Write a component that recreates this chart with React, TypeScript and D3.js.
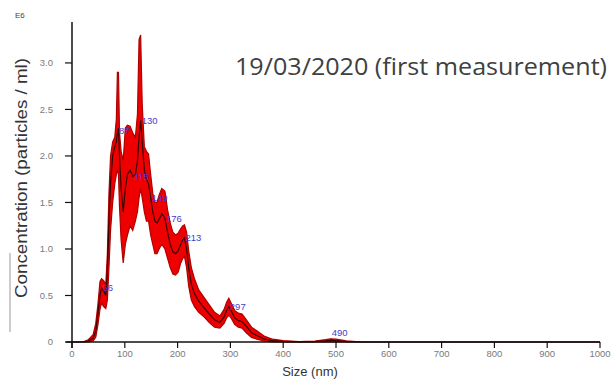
import * as d3 from "d3";

// particle size (nm) and concentration (E6 particles / ml)
const sizeNm = [
  0, 20, 30, 40, 45, 49, 53, 56, 60, 64, 67, 70, 73, 77, 81, 84, 86, 88, 90, 93, 97, 101, 105, 110, 115,
  120, 124, 127, 130, 133, 137, 141, 145, 149, 153, 157, 161, 165, 170, 176, 181, 186, 191, 196, 201,
  206, 210, 213, 217, 221, 226, 232, 240, 250, 260, 270, 280, 288, 293, 297, 302, 308, 315, 322, 330,
  340, 350, 365, 380, 400, 430, 460, 480, 490, 500, 520, 550, 1000,
];
const meanConc = [
  0, 0, 0.01, 0.04, 0.12, 0.3, 0.5, 0.58, 0.55, 0.5, 0.75, 1.3, 1.7, 2.0, 2.1, 2.15, 2.25, 2.3, 2.0, 1.65,
  1.4, 1.65, 1.8, 1.85, 1.78, 1.8, 1.95, 2.2, 2.38, 2.15, 1.85, 1.75, 1.7, 1.55, 1.4, 1.3, 1.28, 1.32,
  1.38, 1.33, 1.18, 1.05, 0.97, 0.95, 0.98, 1.05, 1.1, 1.12, 1.0, 0.8, 0.62, 0.52, 0.44, 0.37, 0.3, 0.24,
  0.21, 0.27, 0.34, 0.38, 0.33, 0.26, 0.23, 0.22, 0.17, 0.1, 0.07, 0.03, 0.015, 0.005, 0, 0.005, 0.012,
  0.02, 0.015, 0.005, 0, 0,
];
const upperConc = [
  0, 0, 0.02, 0.08, 0.2, 0.4, 0.65, 0.68, 0.66, 0.62, 0.95, 1.6, 2.0, 2.15, 2.2, 2.4, 2.9, 2.9, 2.25, 2.05,
  1.95, 2.3, 2.33, 2.32, 2.25, 2.2, 2.45, 3.25, 3.3, 2.55, 2.1, 2.05, 2.02, 1.8, 1.6, 1.5, 1.5, 1.58,
  1.65, 1.62, 1.42, 1.28, 1.18, 1.15, 1.17, 1.22, 1.25, 1.26, 1.18, 0.98, 0.8, 0.68, 0.56, 0.48, 0.4,
  0.32, 0.28, 0.35, 0.43, 0.47, 0.41, 0.34, 0.31, 0.3, 0.24, 0.16, 0.12, 0.06, 0.03, 0.015, 0.005, 0.01,
  0.025, 0.035, 0.03, 0.012, 0, 0,
];
const lowerConc = [
  0, 0, 0, 0.01, 0.05, 0.18, 0.35, 0.42, 0.38, 0.36, 0.45, 0.8, 1.2, 1.5, 1.7, 1.8, 1.85, 1.8, 1.45, 1.1,
  0.85, 1.05, 1.15, 1.25, 1.2, 1.3, 1.4, 1.55, 1.65, 1.55, 1.4, 1.3, 1.3, 1.15, 1.05, 0.95, 0.95, 1.0,
  1.05, 1.0, 0.9, 0.8, 0.73, 0.72, 0.75, 0.85, 0.9, 0.92, 0.8, 0.6, 0.45, 0.38, 0.32, 0.27, 0.21, 0.16,
  0.15, 0.2, 0.26, 0.29, 0.25, 0.19, 0.16, 0.15, 0.1, 0.05, 0.03, 0.01, 0, 0, 0, 0, 0, 0.005, 0, 0, 0, 0,
];

const peakSizes = [56, 87, 115, 130, 149, 176, 213, 297, 490];
const xTicks = [0, 100, 200, 300, 400, 500, 600, 700, 800, 900, 1000];
const yTicks = [0, 0.5, 1.0, 1.5, 2.0, 2.5, 3.0];

const W = 616;
const H = 382;
const sans = "Liberation Sans, Arial, sans-serif";

export default function App() {
  const x = d3.scaleLinear().domain([0, 1000]).range([72, 600]);
  const y = d3.scaleLinear().domain([0, 3.44]).range([342, 22]);
  const idx = d3.range(sizeNm.length);

  const band = d3
    .area<number>()
    .x((i) => x(sizeNm[i]))
    .y0((i) => y(lowerConc[i]))
    .y1((i) => y(upperConc[i]));
  const meanLine = d3
    .line<number>()
    .x((i) => x(sizeNm[i]))
    .y((i) => y(meanConc[i]));

  const meanAt = (s: number) => {
    const j = d3.bisectLeft(sizeNm, s);
    if (sizeNm[j] === s) return meanConc[j];
    const t = (s - sizeNm[j - 1]) / (sizeNm[j] - sizeNm[j - 1]);
    return meanConc[j - 1] + t * (meanConc[j] - meanConc[j - 1]);
  };

  return (
    <svg
      width={W}
      height={H}
      style={{ position: "absolute", left: 0, top: 0, background: "#fff" }}
    >
      {/* band and mean */}
      <path d={band(idx) ?? ""} fill="#ee0000" stroke="#b00000" strokeWidth={1.2} />
      <path d={meanLine(idx) ?? ""} fill="none" stroke="#3a0000" strokeWidth={1.2} />

      {/* peak labels */}
      {peakSizes.map((s) => (
        <text
          key={s}
          x={x(s) + 1}
          y={Math.min(y(meanAt(s)), y(0) - 9)}
          dy="0.35em"
          fontFamily={sans}
          fontSize={9.5}
          fill="#4a3cc8"
        >
          {s}
        </text>
      ))}

      {/* x axis */}
      <line x1={66} x2={x(1000)} y1={y(0)} y2={y(0)} stroke="#111" strokeWidth={1.5} />
      {xTicks.map((t) => (
        <g key={t} transform={`translate(${x(t)},${y(0)})`}>
          <line y1={0} y2={6} stroke="#111" strokeWidth={1.2} />
          <text y={15} textAnchor="middle" fontFamily={sans} fontSize={9.5} fill="#7a7a7a">
            {t}
          </text>
        </g>
      ))}

      {/* y axis */}
      <line x1={x(0)} x2={x(0)} y1={y(3.44)} y2={y(0) + 6} stroke="#111" strokeWidth={1.5} />
      {yTicks.map((t) => (
        <g key={t} transform={`translate(${x(0)},${y(t)})`}>
          <line x1={-7} x2={0} stroke="#111" strokeWidth={1.2} />
          <text x={-19} dy="0.35em" textAnchor="end" fontFamily={sans} fontSize={9.5} fill="#7a7a7a">
            {t === 0 ? "0" : t.toFixed(1)}
          </text>
        </g>
      ))}

      <text x={15} y={18} fontFamily={sans} fontSize={8} fill="#444">
        E6
      </text>

      <text
        transform={`translate(27,178) rotate(-90)`}
        textAnchor="middle"
        fontFamily={sans}
        fontSize={16}
        fill="#333"
        textLength={240}
        lengthAdjust="spacingAndGlyphs"
      >
        Concentration (particles / ml)
      </text>
      <line x1={10} x2={10} y1={253} y2={332} stroke="#999" strokeWidth={1} />

      <text x={310} y={376} textAnchor="middle" fontFamily={sans} fontSize={13} fill="#333">
        Size (nm)
      </text>

      <text
        x={235}
        y={75}
        fontFamily="Open Sans, Lato, sans-serif"
        fontSize={23}
        fill="#404040"
        textLength={372}
        lengthAdjust="spacingAndGlyphs"
      >
        19/03/2020 (first measurement)
      </text>
    </svg>
  );
}
